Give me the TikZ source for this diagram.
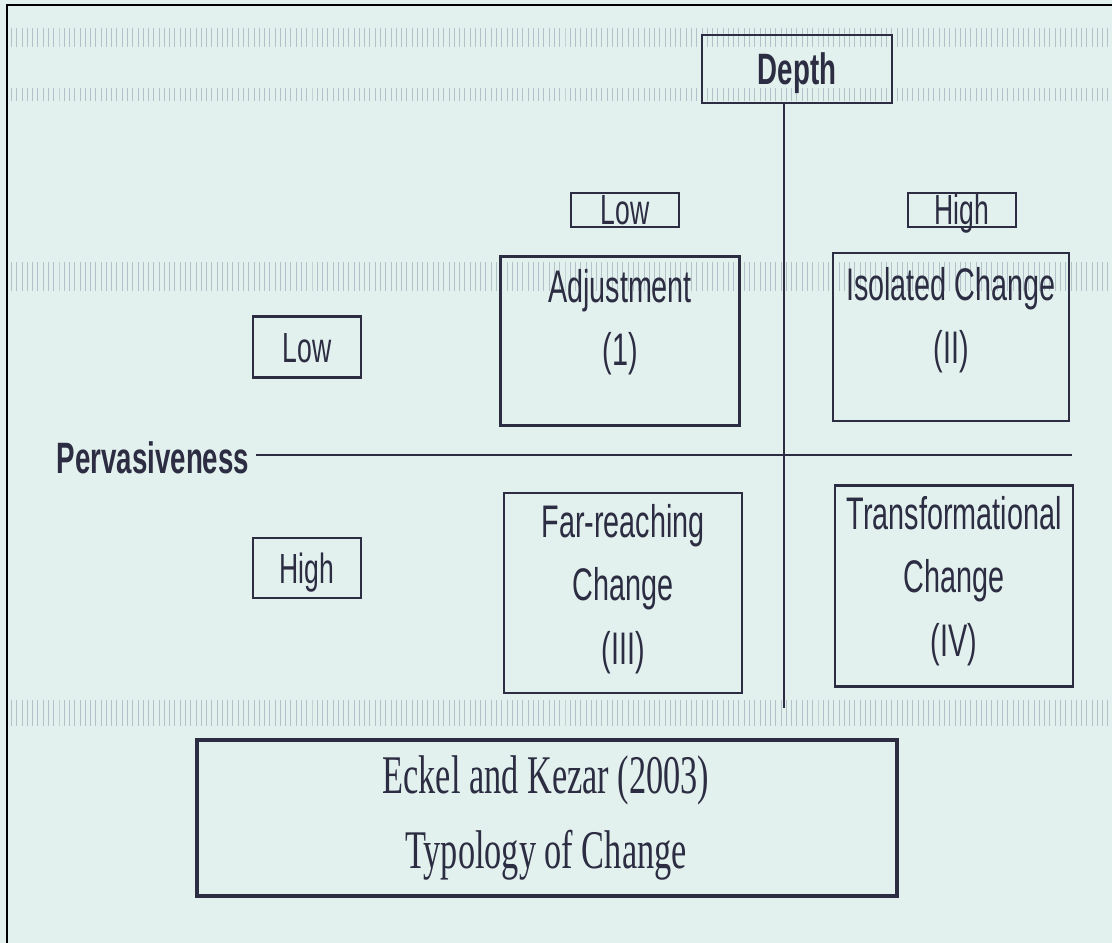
\documentclass[tikz,border=0pt]{standalone}
\usepackage{fontspec}
\newfontfamily\narrowsans[FakeStretch=0.63]{Liberation Sans}
\newfontfamily\narrowserif[FakeStretch=0.63]{Liberation Serif}
\usetikzlibrary{patterns}
\definecolor{paper}{RGB}{226,241,237}
\definecolor{ink}{RGB}{44,44,66}
\definecolor{moire}{RGB}{178,194,200}

\begin{document}
\begin{tikzpicture}[x=0.02cm, y=-0.02cm,
    cell/.style={draw=ink, line width=1.5pt, inner sep=0pt},
    tag/.style={cell, text=ink, font=\narrowsans\fontsize{24}{28}\selectfont,
      text height=0.64cm, text depth=0.04cm, minimum width=2.16cm},
    celltext/.style={align=center, inner sep=0pt, text=ink,
      font=\narrowsans\fontsize{26}{36}\selectfont},
    axis/.style={ink, line width=1.6pt}]
    % Paper, scan bands and frame
    \fill[paper] (0,0) rectangle (1112,943);
    \foreach \top/\bot in {28/46, 88/100, 262/290, 700/725} {
        \fill[pattern=vertical lines, pattern color=moire] (8,\top) rectangle (1112,\bot);
    }
    \useasboundingbox (0,0) rectangle (1112,943);
    \draw[line width=1.7pt] (7,943) -- (7,5) -- (1112,5);

    % Axis headings
    \node[tag, minimum width=3.8cm, minimum height=1.36cm, text height=0.67cm,
      font=\narrowsans\bfseries\fontsize{25}{30}\selectfont] (depth) at (797,69) {Depth};
    \node[text=ink, inner sep=0pt, font=\narrowsans\bfseries\fontsize{25}{30}\selectfont]
      (perv) at (153,458) {Pervasiveness};

    % Low / High tags
    \node[tag, minimum height=0.68cm] (lowtop) at (625,210) {Low};
    \node[tag, minimum height=0.68cm] (hightop) at (962,210) {High};
    \node[tag, minimum height=1.22cm] (lowleft) at (307,347) {Low};
    \node[tag, minimum height=1.2cm] (highleft) at (307,568) {High};

    % Axes
    \coordinate (vend) at (784,708);
    \coordinate (hend) at (1072,455);
    \draw[axis, line width=1.2pt] (depth.south -| vend) -- (vend);
    \draw[axis] ([xshift=0.12cm]perv.east |- hend) -- (hend);

    % The four cells
    \node[cell, minimum width=4.78cm, minimum height=3.38cm] (adjust) at (620,341) {};
    \node[cell, minimum width=4.72cm, minimum height=3.36cm] (isolated) at (951,337) {};
    \node[cell, minimum width=4.76cm, minimum height=4cm] (farreach) at (623,593) {};
    \node[cell, minimum width=4.76cm, minimum height=4.02cm] (transform) at (954,586) {};
    \node[celltext] (adjustlbl) at (620,322) {Adjustment\\(1)};
    \node[celltext] (isolatedlbl) at (951,320) {Isolated Change\\(II)};
    \node[celltext] (farreachlbl) at (623,589) {Far-reaching\\Change\\(III)};
    \node[celltext] (transformlbl) at (954,581) {Transformational\\Change\\(IV)};

    % Source box
    \node[cell, line width=1.9pt, minimum width=14cm, minimum height=3.12cm] (source) at (547,818) {};
    \node[align=center, inner sep=0pt, text=ink,
      font=\narrowserif\fontsize{31}{42.7}\selectfont] (sourcelbl) at (546,818)
      {Eckel and Kezar (2003)\\Typology of Change};
\end{tikzpicture}
\end{document}
